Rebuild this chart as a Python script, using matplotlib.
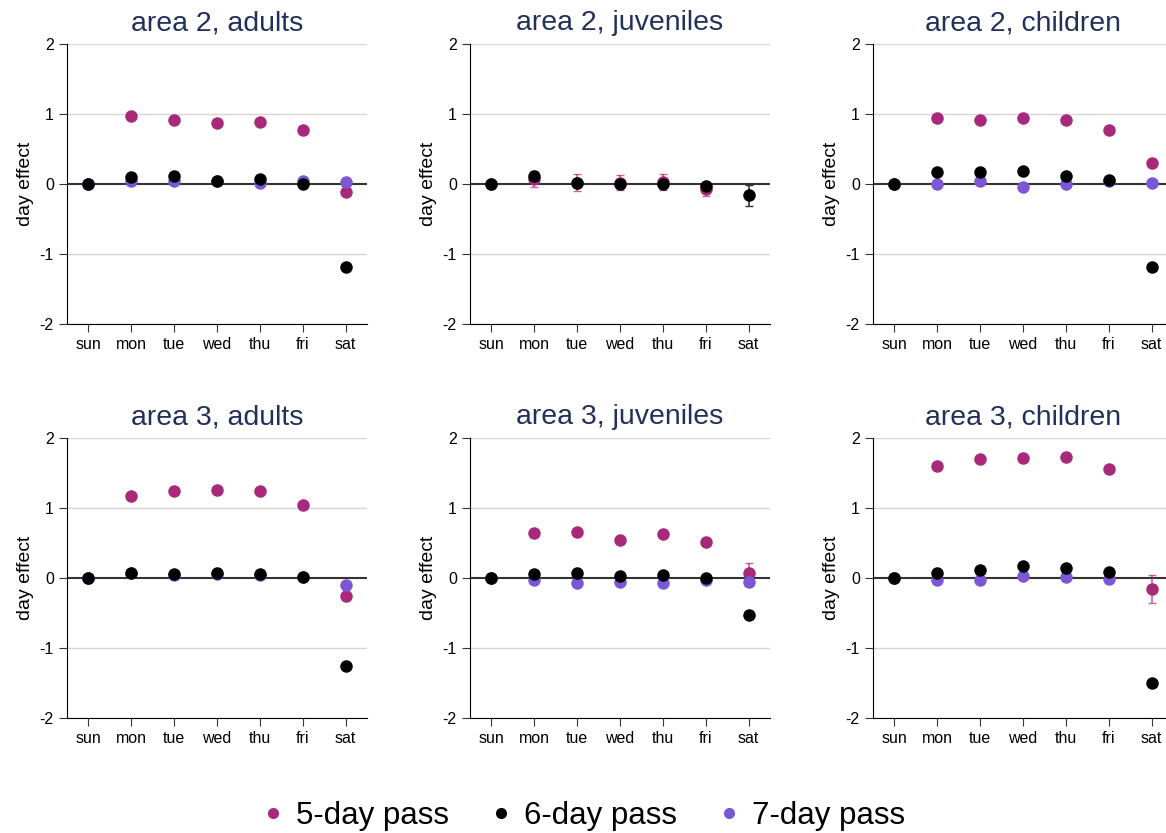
import numpy as np
import matplotlib
matplotlib.use("Agg")
import matplotlib.pyplot as plt

plt.rcParams['font.family'] = ['Liberation Sans', 'DejaVu Sans']

nan = np.nan
days = ["sun", "mon", "tue", "wed", "thu", "fri", "sat"]
titles = ["area 2, adults", "area 2, juveniles", "area 2, children",
          "area 3, adults", "area 3, juveniles", "area 3, children"]
labels = ["5-day pass", "6-day pass", "7-day pass"]

# day effects, one list per panel (sun..sat)
five_day = [
    [0, 0.97, 0.92, 0.87, 0.89, 0.77, -0.12],
    [0, 0.07, 0.02, 0.02, 0.03, -0.07, nan],
    [0, 0.95, 0.92, 0.95, 0.92, 0.78, 0.30],
    [0, 1.17, 1.25, 1.26, 1.25, 1.05, -0.26],
    [0, 0.64, 0.66, 0.55, 0.63, 0.52, 0.07],
    [0, 1.60, 1.70, 1.72, 1.73, 1.56, -0.16],
]
five_day_err = [
    [0, 0.02, 0.02, 0.02, 0.02, 0.02, 0.04],
    [0, 0.11, 0.12, 0.11, 0.11, 0.10, nan],
    [0, 0.02, 0.02, 0.02, 0.02, 0.02, 0.03],
    [0, 0.02, 0.02, 0.02, 0.02, 0.02, 0.03],
    [0, 0.03, 0.03, 0.03, 0.03, 0.03, 0.15],
    [0, 0.04, 0.05, 0.05, 0.06, 0.04, 0.20],
]
six_day = [
    [0, 0.10, 0.11, 0.05, 0.07, 0.0, -1.18],
    [0, 0.11, 0.02, 0.0, 0.0, -0.03, -0.16],
    [0, 0.17, 0.17, 0.19, 0.12, 0.06, -1.19],
    [0, 0.08, 0.06, 0.07, 0.06, 0.02, -1.25],
    [0, 0.06, 0.08, 0.03, 0.05, 0.0, -0.53],
    [0, 0.08, 0.12, 0.17, 0.14, 0.09, -1.50],
]
six_day_err = [
    [0, 0.01, 0.01, 0.01, 0.01, 0.01, 0.02],
    [0, 0.04, 0.04, 0.04, 0.04, 0.04, 0.15],
    [0, 0.01, 0.01, 0.01, 0.01, 0.01, 0.02],
    [0, 0.01, 0.01, 0.01, 0.01, 0.01, 0.02],
    [0, 0.01, 0.01, 0.01, 0.01, 0.01, 0.06],
    [0, 0.01, 0.01, 0.01, 0.01, 0.01, 0.02],
]
seven_day = [
    [0, 0.04, 0.04, 0.05, 0.01, 0.05, 0.03],
    [nan, nan, nan, nan, nan, nan, nan],
    [0, 0.0, 0.05, -0.04, 0.0, 0.05, 0.02],
    [0, 0.07, 0.05, 0.06, 0.05, 0.02, -0.10],
    [0, -0.03, -0.07, -0.05, -0.07, -0.02, -0.05],
    [0, -0.03, -0.02, 0.03, 0.015, -0.015, nan],
]

c5, c6, c7 = "#a8287a", "#000000", "#7b57d6"
title_color = "#23305a"

fig = plt.figure(figsize=(11.66, 8.33), dpi=100)
lefts = [0.0575, 0.4031, 0.7487]
bottoms = [0.611, 0.138]
w, h = 0.2573, 0.336

x = np.arange(len(days))
for i in range(6):
    ax = fig.add_axes([lefts[i % 3], bottoms[i // 3], w, h])
    for yv in [-2, -1, 1, 2]:
        ax.axhline(yv, color="#d6d6d6", lw=1.0, zorder=0)
    ax.axhline(0, color="#333333", lw=1.5, zorder=1)

    ax.errorbar(x, five_day[i], yerr=five_day_err[i], fmt="none",
                ecolor=c5, alpha=0.7, capsize=3, elinewidth=1.2, zorder=2)
    ax.plot(x, five_day[i], "o", color=c5, ms=9, mec="none", zorder=3)
    ax.errorbar(x, six_day[i], yerr=six_day_err[i], fmt="none",
                ecolor="#333333", capsize=3, elinewidth=1.2, zorder=4)
    ax.plot(x, seven_day[i], "o", color=c7, ms=9, mec="none", zorder=4)
    ax.plot(x, six_day[i], "o", color=c6, ms=9, mec="none", zorder=5)

    ax.set_xlim(-0.5, 6.5)
    ax.set_ylim(-2, 2)
    ax.set_xticks(x)
    ax.set_xticklabels(days)
    ax.set_yticks([-2, -1, 0, 1, 2])
    ax.set_yticklabels(["-2", "-1", "0", "1", "2"])
    ax.tick_params(axis="both", direction="out", length=6, labelsize=11.5,
                   color="#333333")
    ax.spines["top"].set_visible(False)
    ax.spines["right"].set_visible(False)
    ax.set_ylabel("day effect", fontsize=14)
    ax.set_title(titles[i], fontsize=20.5, color=title_color, pad=10)

handles = [plt.Line2D([], [], ls="none", marker="o", ms=8, mec="none", color=c)
           for c in (c5, c6, c7)]
fig.legend(handles, labels, loc="center", bbox_to_anchor=(0.5, 0.021),
           ncol=3, frameon=False, fontsize=22.5, handlelength=0.8,
           handletextpad=0.35, columnspacing=1.25, borderpad=0.1)

fig.savefig("out.png", dpi=100)
